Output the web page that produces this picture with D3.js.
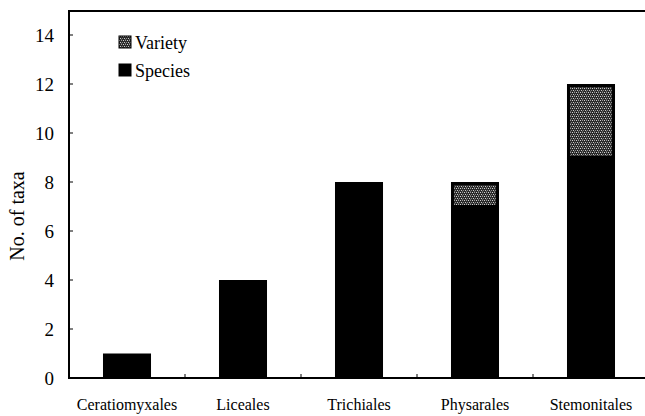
<!DOCTYPE html>
<head>
<meta charset="utf-8">
<style>
body { margin: 0; background: #fff; }
</style>
</head>
<body>
<script src="https://cdn.jsdelivr.net/npm/d3@7"></script>
<script>

// taxa per order
var orders = ["Ceratiomyxales", "Liceales", "Trichiales", "Physarales", "Stemonitales"];
var species = [1, 4, 8, 7, 9];
var variety = [0, 0, 0, 1, 3];
var yTicks = [0, 2, 4, 6, 8, 10, 12, 14];

var width = 645, height = 416;
var padLeft = 69, padTop = 10, baseY = 378, padRight = 649;
var serif = "'Liberation Serif', 'Times New Roman', 'DejaVu Serif', serif";

var svg = d3.select("body").append("svg")
    .attr("width", width)
    .attr("height", height)
    .style("font-family", serif);

// grey speckled fill for variety
var defs = svg.append("defs");
var pat = defs.append("pattern")
    .attr("id", "speckle")
    .attr("patternUnits", "userSpaceOnUse")
    .attr("width", 4).attr("height", 4);
pat.append("rect").attr("width", 4).attr("height", 4).attr("fill", "#2a2a2a");
pat.append("rect").attr("x", 0).attr("y", 0).attr("width", 1).attr("height", 1).attr("fill", "#d0d0d0");
pat.append("rect").attr("x", 2).attr("y", 0).attr("width", 1).attr("height", 1).attr("fill", "#9a9a9a");
pat.append("rect").attr("x", 1).attr("y", 2).attr("width", 1).attr("height", 1).attr("fill", "#c8c8c8");
pat.append("rect").attr("x", 3).attr("y", 2).attr("width", 1).attr("height", 1).attr("fill", "#8a8a8a");
pat.append("rect").attr("x", 2).attr("y", 3).attr("width", 1).attr("height", 1).attr("fill", "#606060");

var x = d3.scaleBand()
    .domain(orders)
    .range([padLeft, padRight])
    .paddingInner(0.586)
    .paddingOuter(0.293);

var y = d3.scaleLinear()
    .domain([0, 14])
    .range([baseY, baseY - 7 * 49]);

var data = orders.map(function(o, i) {
  return {order: o, species: species[i], variety: variety[i]};
});

// species bars
svg.append("g").selectAll("rect")
    .data(data)
    .enter().append("rect")
    .attr("x", function(d) { return x(d.order); })
    .attr("width", x.bandwidth())
    .attr("y", function(d) { return y(d.species); })
    .attr("height", function(d) { return y(0) - y(d.species); })
    .attr("fill", "#000");

// variety stacked on top
svg.append("g").selectAll("rect")
    .data(data.filter(function(d) { return d.variety > 0; }))
    .enter().append("rect")
    .attr("x", function(d) { return x(d.order) + 1.5; })
    .attr("width", x.bandwidth() - 3)
    .attr("y", function(d) { return y(d.species + d.variety) + 1.5; })
    .attr("height", function(d) { return y(d.species) - y(d.species + d.variety) - 1.5; })
    .attr("fill", "url(#speckle)")
    .attr("stroke", "#000")
    .attr("stroke-width", 3);

// frame: left axis, top line, bottom axis
svg.append("line")
    .attr("x1", padLeft).attr("x2", padLeft)
    .attr("y1", padTop).attr("y2", baseY + 1)
    .attr("stroke", "#000").attr("stroke-width", 2);
svg.append("line")
    .attr("x1", padLeft - 1).attr("x2", width)
    .attr("y1", padTop + 1).attr("y2", padTop + 1)
    .attr("stroke", "#000").attr("stroke-width", 2);
svg.append("line")
    .attr("x1", padLeft - 1).attr("x2", width)
    .attr("y1", baseY).attr("y2", baseY)
    .attr("stroke", "#000").attr("stroke-width", 2);

// y ticks
var yAxis = svg.append("g");
yAxis.selectAll("line")
    .data(yTicks)
    .enter().append("line")
    .attr("x1", padLeft).attr("x2", padLeft + 4)
    .attr("y1", function(d) { return y(d); })
    .attr("y2", function(d) { return y(d); })
    .attr("stroke", "#000").attr("stroke-width", 1);
yAxis.selectAll("text")
    .data(yTicks)
    .enter().append("text")
    .attr("x", 54)
    .attr("y", function(d) { return y(d) + 7; })
    .attr("text-anchor", "end")
    .style("font-family", serif)
    .style("font-size", "19px")
    .text(function(d) { return d; });

// x ticks between bands
var bounds = orders.slice(1).map(function(o) { return x(o) - x.step() * x.paddingInner() / 2; });
svg.append("g").selectAll("line")
    .data(bounds)
    .enter().append("line")
    .attr("x1", function(d) { return d; }).attr("x2", function(d) { return d; })
    .attr("y1", baseY - 4).attr("y2", baseY)
    .attr("stroke", "#000").attr("stroke-width", 1);

svg.append("g").selectAll("text")
    .data(orders)
    .enter().append("text")
    .attr("x", function(d) { return x(d) + x.bandwidth() / 2; })
    .attr("y", 410)
    .attr("text-anchor", "middle")
    .style("font-family", serif)
    .style("font-size", "16px")
    .text(function(d) { return d; });

// y title
svg.append("text")
    .attr("transform", "translate(24,216) rotate(-90)")
    .attr("text-anchor", "middle")
    .style("font-family", serif)
    .style("font-size", "20px")
    .text("No. of taxa");

// legend
var legend = [{label: "Variety", fill: "url(#speckle)"}, {label: "Species", fill: "#000"}];
var lg = svg.append("g").selectAll("g")
    .data(legend)
    .enter().append("g")
    .attr("transform", function(d, i) { return "translate(119," + (36 + i * 28) + ")"; });
lg.append("rect")
    .attr("width", 12).attr("height", 12)
    .attr("fill", function(d) { return d.fill; })
    .attr("stroke", "#000").attr("stroke-width", 1);
lg.append("text")
    .attr("x", 16).attr("y", 13)
    .style("font-family", serif)
    .style("font-size", "18px")
    .text(function(d) { return d.label; });

</script>
</body>
</html>
